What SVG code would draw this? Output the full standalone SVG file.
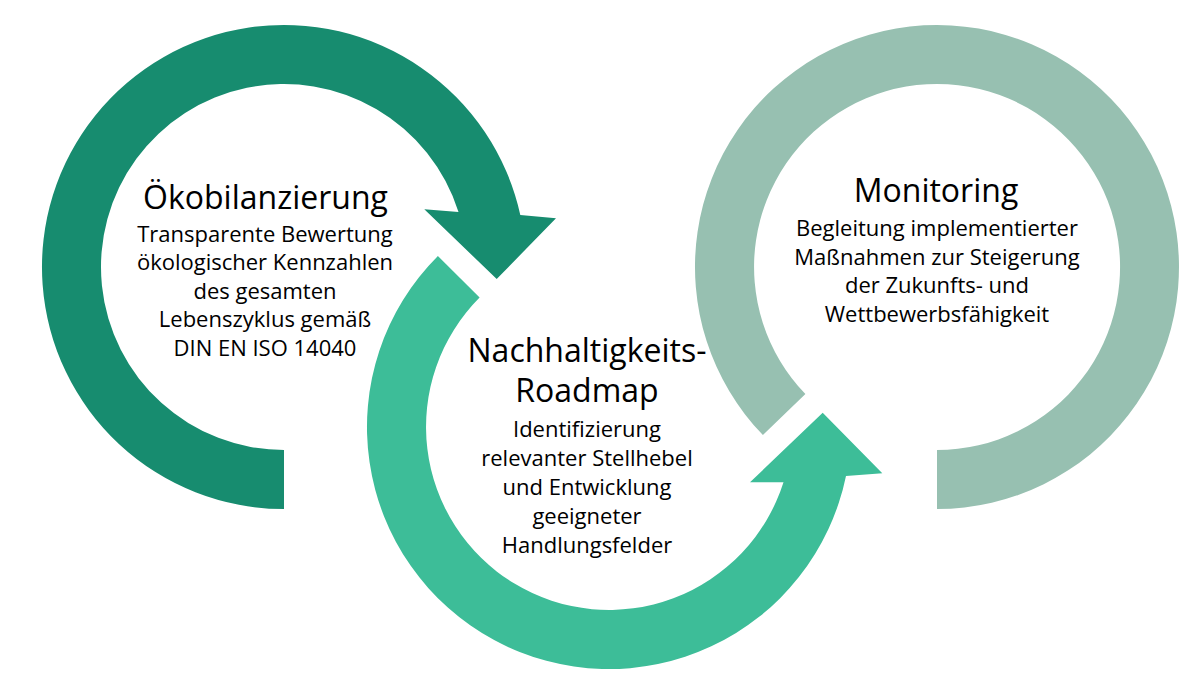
<svg xmlns="http://www.w3.org/2000/svg" width="1191" height="680" viewBox="0 0 1191 680">
  <style>
    .title { font-family: "Open Sans", "Liberation Sans", sans-serif; font-size: 32px; fill: #000; text-anchor: middle; }
    .body { font-family: "Open Sans", "Liberation Sans", sans-serif; font-size: 22px; fill: #000; text-anchor: middle; }
    .c1 { fill: #178C6F; }
    .c2 { fill: #3DBD98; }
    .c3 { fill: #97C0B1; }
  </style>
  <rect width="1191" height="680" fill="#ffffff"/>

  <g id="node-oekobilanzierung">
    <path class="c1" d="M 284 509 A 242 242 0 1 1 520.3 214.9 L 556 218.3 L 496.7 279 L 424.3 209.3 L 458.5 211.9 A 183 183 0 1 0 284 450 Z"/>
    <text class="title" x="265.5" y="209">Ökobilanzierung</text>
    <text class="body" x="265" y="241.7">Transparente Bewertung</text>
    <text class="body" x="265" y="270.4">ökologischer Kennzahlen</text>
    <text class="body" x="265" y="298.7">des gesamten</text>
    <text class="body" x="265" y="327">Lebenszyklus gemäß</text>
    <text class="body" x="265" y="355.5">DIN EN ISO 14040</text>
  </g>

  <g id="node-roadmap">
    <path class="c2" d="M 437.9 255.9 A 242 242 0 1 0 846 475.9 L 882.3 473.3 L 822.7 412.7 L 750 482.3 L 783.5 482.2 A 183 183 0 1 1 479.6 297.6 Z"/>
    <text class="title" x="587" y="361.7">Nachhaltigkeits-</text>
    <text class="title" x="587" y="401.7">Roadmap</text>
    <text class="body" x="587" y="437.3">Identifizierung</text>
    <text class="body" x="587" y="466.3">relevanter Stellhebel</text>
    <text class="body" x="587" y="495.3">und Entwicklung</text>
    <text class="body" x="587" y="523.8">geeigneter</text>
    <text class="body" x="587" y="552.7">Handlungsfelder</text>
  </g>

  <g id="node-monitoring">
    <path class="c3" d="M 762.9 435.1 A 242 242 0 1 1 937 509 L 937 450 A 183 183 0 1 0 805.4 394.1 Z"/>
    <text class="title" x="936" y="201.7">Monitoring</text>
    <text class="body" x="937" y="236.3">Begleitung implementierter</text>
    <text class="body" x="937" y="264.8">Maßnahmen zur Steigerung</text>
    <text class="body" x="937" y="293.3">der Zukunfts- und</text>
    <text class="body" x="937" y="321.8">Wettbewerbsfähigkeit</text>
  </g>

  <g id="connectors"></g>
</svg>
